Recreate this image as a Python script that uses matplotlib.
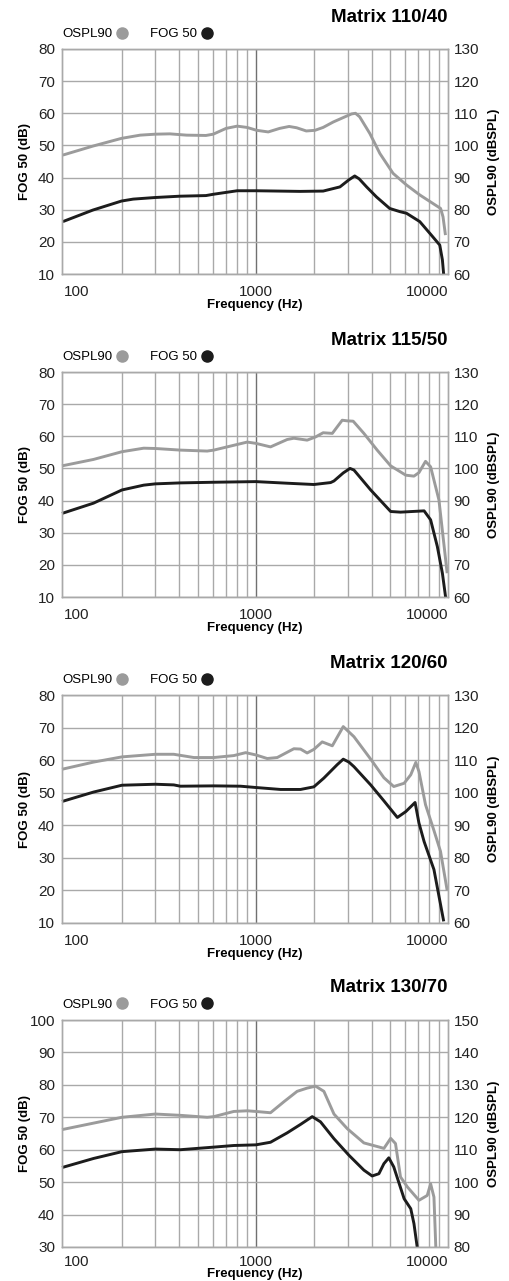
import matplotlib
matplotlib.use('Agg')
import matplotlib.pyplot as plt
from matplotlib.lines import Line2D
from matplotlib.ticker import MultipleLocator, NullFormatter, FixedLocator

plt.rcParams['font.family'] = ['Liberation Sans', 'DejaVu Sans']

# --- data (frequency in Hz, level in dB) ---
titles = ['Matrix 110/40', 'Matrix 115/50', 'Matrix 120/60', 'Matrix 130/70']
fog_ranges = [(10, 80), (10, 80), (10, 80), (30, 100)]

# Matrix 110/40
m1_fog_hz = [99, 142, 200, 230, 300, 400, 550, 600, 800, 1000, 1700, 2240, 2740, 3050, 3270,
             3450, 3770, 4240, 4970, 5620, 6080, 7130, 8190, 9060, 9350, 9500]
m1_fog_db = [26.3, 29.9, 32.7, 33.3, 33.8, 34.2, 34.4, 34.8, 35.9, 35.9, 35.7, 35.8, 37.1, 39.3, 40.5,
             39.6, 37.1, 34.0, 30.4, 29.4, 28.9, 26.3, 22.1, 19.0, 14.4, 9.7]
m1_ospl_hz = [99, 142, 200, 250, 300, 357, 436, 550, 600, 700, 800, 900, 1010, 1160, 1330, 1490,
              1630, 1830, 2030, 2240, 2530, 2960, 3150, 3300, 3470, 3920, 4420, 5180, 6080, 7130, 8320,
              9150, 9420, 9700]
m1_ospl_db = [97.0, 99.8, 102.2, 103.2, 103.5, 103.6, 103.2, 103.1, 103.5, 105.3, 106.0, 105.6, 104.7,
              104.2, 105.3, 105.9, 105.5, 104.5, 104.7, 105.6, 107.3, 109.1, 109.8, 110.0, 108.9, 103.7,
              97.5, 91.3, 87.7, 84.6, 82.0, 80.4, 77.8, 72.1]

# Matrix 115/50
m2_fog_hz = [98, 143, 201, 261, 300, 405, 604, 1000, 1456, 2004, 2450, 2550, 2850, 3090, 3240, 3960,
             5030, 5660, 7510, 8120, 8800, 9350, 9730]
m2_fog_db = [36.0, 39.2, 43.3, 44.8, 45.2, 45.5, 45.7, 45.9, 45.4, 45.0, 45.6, 46.1, 48.6, 50.0, 49.5,
             43.3, 36.6, 36.4, 36.8, 34.0, 25.7, 17.4, 9.7]
m2_ospl_hz = [98, 143, 201, 261, 300, 405, 558, 604, 768, 902, 1000, 1192, 1456, 1577, 1849, 2046,
              2240, 2500, 2815, 2990, 3210, 3650, 4280, 5030, 6030, 6650, 7060, 7640, 8120, 8970, 9900]
m2_ospl_db = [100.8, 102.8, 105.2, 106.3, 106.2, 105.7, 105.4, 105.7, 107.2, 108.2, 107.8, 106.7, 109.0,
              109.4, 108.8, 109.8, 111.1, 110.9, 115.0, 114.8, 114.7, 110.9, 105.7, 100.8, 97.9, 97.6,
              98.7, 102.2, 100.5, 90.2, 67.4]

# Matrix 120/60
m3_fog_hz = [98, 143, 201, 300, 374, 405, 604, 832, 1000, 1344, 1708, 2004, 2260, 2650, 2850, 3050,
             3240, 3960, 4640, 5450, 6030, 6740, 7060, 7510, 8450, 9500]
m3_fog_db = [47.3, 50.2, 52.3, 52.6, 52.4, 52.0, 52.1, 52.0, 51.6, 51.0, 51.0, 51.8, 54.5, 58.6, 60.3,
             59.4, 58.0, 52.4, 47.5, 42.4, 44.2, 47.0, 40.7, 35.0, 26.4, 10.5]
m3_ospl_hz = [98, 143, 201, 300, 374, 476, 604, 768, 885, 1000, 1146, 1292, 1577, 1708, 1849, 2004,
              2215, 2500, 2850, 3240, 3960, 4640, 5220, 5910, 6400, 6800, 7060, 7640, 8450, 9140, 9900]
m3_ospl_db = [107.2, 109.4, 111.0, 111.8, 111.8, 110.8, 110.8, 111.4, 112.3, 111.6, 110.5, 110.8, 113.5,
              113.4, 112.2, 113.3, 115.6, 114.4, 120.3, 117.2, 110.3, 104.6, 101.9, 102.9, 105.5, 109.3,
              106.5, 96.3, 88.4, 82.0, 70.0]

# Matrix 130/70
m4_fog_hz = [98, 143, 201, 300, 405, 604, 768, 1000, 1192, 1456, 1708, 1965, 2170, 2550, 3050, 3650,
             4030, 4370, 4640, 4920, 5220, 5910, 6400, 6650, 6920]
m4_fog_db = [54.5, 57.3, 59.4, 60.2, 60.0, 60.8, 61.3, 61.5, 62.3, 65.2, 67.8, 70.2, 68.6, 63.4, 58.3,
             53.7, 51.9, 52.6, 55.7, 57.5, 54.7, 44.9, 41.8, 37.2, 29.8]
m4_ospl_hz = [98, 143, 201, 300, 405, 558, 604, 768, 902, 1000, 1192, 1400, 1640, 1849, 2046, 2260,
              2550, 2990, 3650, 4460, 4640, 5030, 5330, 5660, 6150, 7060, 7800, 8120, 8450, 8640]
m4_ospl_db = [116.2, 118.2, 120.0, 121.0, 120.6, 120.0, 120.2, 121.8, 122.0, 121.8, 121.4, 124.8, 128.0,
              129.0, 129.6, 128.0, 121.0, 116.5, 112.1, 110.7, 110.4, 113.5, 111.9, 101.6, 98.5, 94.4,
              95.9, 99.5, 95.4, 80.0]

fog_hz = [m1_fog_hz, m2_fog_hz, m3_fog_hz, m4_fog_hz]
fog_db = [m1_fog_db, m2_fog_db, m3_fog_db, m4_fog_db]
ospl_hz = [m1_ospl_hz, m2_ospl_hz, m3_ospl_hz, m4_ospl_hz]
ospl_db = [m1_ospl_db, m2_ospl_db, m3_ospl_db, m4_ospl_db]

x_ticks = [100, 1000, 10000]
x_tick_labels = ['100', '1000', '10000']

# --- layout (pixels) ---
W, H = 510, 1281
left_px, right_px = 62, 448
panel_px = [(49, 274), (372, 597), (695, 923), (1020, 1247)]
xlab_off = [31, 31, 31, 27]     # label centre below the axes, px
xtick_pad = [8, 8, 8, 6]

GRID = '#a9a9a9'
GRAY = '#9b9b9b'
BLACK = '#1c1c1c'

fig = plt.figure(figsize=(W / 100, H / 100), dpi=100)

for i in range(4):
    top, bot = panel_px[i]
    h = bot - top
    ax = fig.add_axes([left_px / W, 1 - bot / H, (right_px - left_px) / W, h / H])
    ax2 = ax.twinx()
    lo, hi = fog_ranges[i]

    ax.set_xscale('log')
    ax.set_xlim(98, 10000)
    ax.set_ylim(lo, hi)
    ax2.set_ylim(lo + 50, hi + 50)

    ax.xaxis.set_minor_locator(FixedLocator([200, 300, 400, 500, 600, 700, 800, 900,
                                             2000, 3000, 4000, 5000, 6000, 7000, 8000, 9000]))
    ax.xaxis.set_minor_formatter(NullFormatter())
    ax.set_xticks(x_ticks)
    ax.set_xticklabels(x_tick_labels)
    for lab, ha in zip(ax.get_xticklabels(), ['left', 'center', 'right']):
        lab.set_horizontalalignment(ha)
    ax.yaxis.set_major_locator(MultipleLocator(10))
    ax2.yaxis.set_major_locator(MultipleLocator(10))

    ax.grid(True, which='minor', axis='x', color=GRID, lw=1.0)
    ax.grid(True, which='major', axis='y', color=GRID, lw=1.0)
    ax.axvline(1000, color='#707070', lw=1.0, zorder=0.5)

    for a in (ax, ax2):
        for s in a.spines.values():
            s.set_color(GRID)
            s.set_linewidth(1.0)
        a.tick_params(which='both', length=0, labelsize=11, colors='#222222')
    ax.tick_params(axis='y', pad=5)
    ax2.tick_params(axis='y', pad=4)
    ax.tick_params(axis='x', pad=xtick_pad[i])

    ax2.plot(ospl_hz[i], ospl_db[i], color=GRAY, lw=2.1, solid_joinstyle='round',
             solid_capstyle='butt', clip_on=False)
    ax.plot(fog_hz[i], fog_db[i], color=BLACK, lw=2.1, solid_joinstyle='round',
            solid_capstyle='butt', clip_on=False)

    ax.set_xlabel('Frequency (Hz)', fontsize=9.5, fontweight='bold', va='center')
    ax.xaxis.set_label_coords(0.5, -xlab_off[i] / h)
    ax.set_ylabel('FOG 50 (dB)', fontsize=9.5, fontweight='bold', va='center')
    ax.yaxis.set_label_coords((25 - left_px) / (right_px - left_px), 0.5)
    ax2.set_ylabel('OSPL90 (dBSPL)', fontsize=9.5, fontweight='bold', rotation=90, va='center')
    ax2.yaxis.set_label_coords((494 - left_px) / (right_px - left_px), 0.5)

    fig.text(right_px / W, 1 - (top - 32) / H, titles[i], ha='right', va='center',
             fontsize=13.5, fontweight='bold')

    handles = [Line2D([], [], ls='none', marker='o', ms=8, color=GRAY),
               Line2D([], [], ls='none', marker='o', ms=8, color=BLACK)]
    ax.legend(handles, ['OSPL90', 'FOG 50'], ncol=2, markerfirst=False, frameon=False,
              loc='center left', bbox_to_anchor=(0.0, 1 + 15 / h),
              borderaxespad=0, borderpad=0, handlelength=0.9, handletextpad=0.3,
              columnspacing=1.65, prop={'size': 9.5})

fig.savefig('out.png', dpi=100)
plt.close(fig)
